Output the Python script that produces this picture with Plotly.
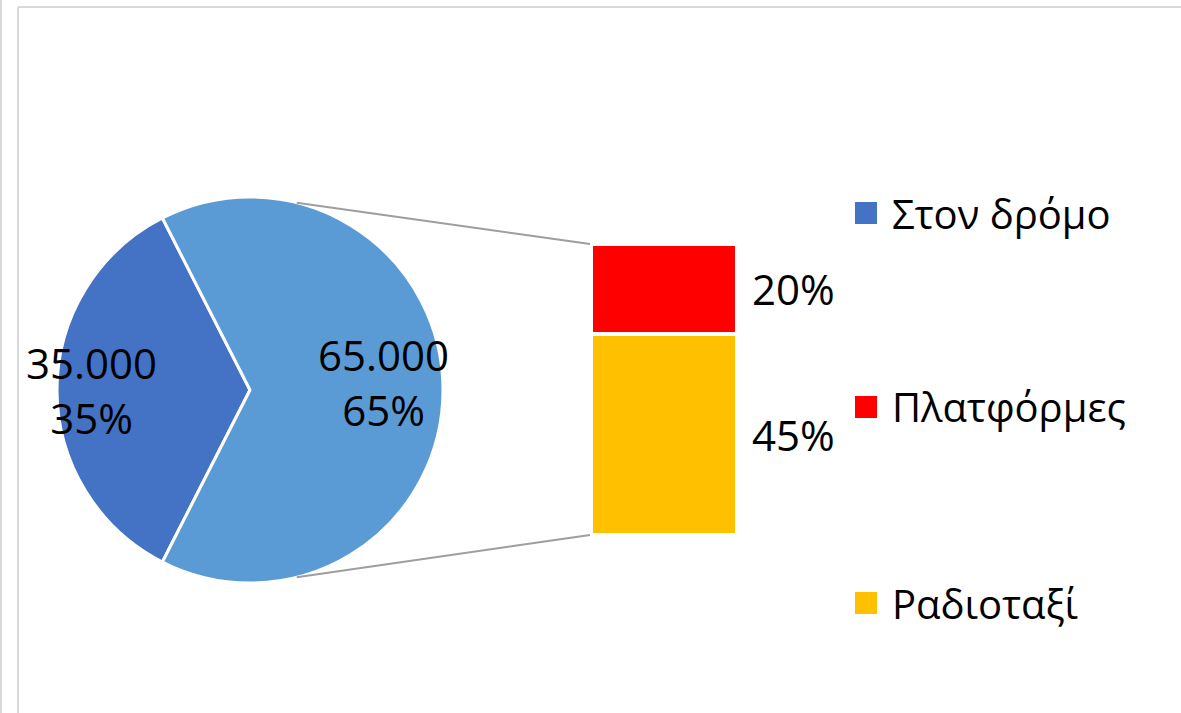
import numpy as np
import plotly.graph_objects as go

W, H = 1181, 713

# data
pie_labels = ["Στον δρόμο", "Άλλοι"]
bar_labels = ["Πλατφόρμες", "Ραδιοταξί"]
road_value = 35000
bar_values = [20000, 45000]
colors = {"Στον δρόμο": "#4472C4", "Άλλοι": "#5B9BD5",
          "Πλατφόρμες": "#FF0000", "Ραδιοταξί": "#FFC000"}
legend_names = ["Στον δρόμο", "Πλατφόρμες", "Ραδιοταξί"]

pie_values = [road_value, sum(bar_values)]
total = sum(pie_values)

FONT = "Open Sans"
FS = 40
FS_LABEL = 42


def px_x(x):
    return x / W


def px_y(y):
    return 1 - y / H


def gr_num(v):
    return f"{v:,}".replace(",", ".")


# pie geometry (pixels)
cx, cy, r = 250, 390, 193

fig = go.Figure()

fig.add_trace(go.Pie(
    labels=pie_labels, values=pie_values, sort=False,
    direction="clockwise", rotation=207,
    marker=dict(colors=[colors[l] for l in pie_labels], line=dict(color="white", width=3)),
    textinfo="none", hoverinfo="label+value+percent", showlegend=False,
    domain=dict(x=[px_x(cx - r), px_x(cx + r)], y=[px_y(cy + r), px_y(cy - r)]),
))

# stacked bar for the split of the second slice (bottom: Ραδιοταξί)
for name, val in zip(bar_labels[::-1], bar_values[::-1]):
    fig.add_trace(go.Bar(
        x=[0], y=[val], name=name, width=1,
        marker=dict(color=colors[name], line=dict(color="white", width=4)),
        showlegend=False, hoverinfo="name+y",
    ))

fig.update_layout(
    barmode="stack",
    width=W, height=H,
    margin=dict(l=0, r=0, t=0, b=0),
    paper_bgcolor="white", plot_bgcolor="white",
    font=dict(family=FONT, size=FS, color="black"),
    xaxis=dict(domain=[px_x(591), px_x(737)], range=[-0.5, 0.5], visible=False, fixedrange=True),
    yaxis=dict(domain=[px_y(535), px_y(244)], range=[0, sum(bar_values)], visible=False, fixedrange=True),
)

annotations = []

# pie labels
mids = []
acc = 0
for v in pie_values:
    frac = v / total
    mids.append(207 + (acc + frac / 2) * 360)
    acc += frac
label_r = [0.82, 0.69]
label_dy = [0, -8]
for v, m, lr, dy in zip(pie_values, mids, label_r, label_dy):
    ang = np.deg2rad(90 - m)
    lx = cx + lr * r * np.cos(ang)
    ly = cy - lr * r * np.sin(ang) + dy
    annotations.append(dict(
        x=px_x(lx), y=px_y(ly), xref="paper", yref="paper",
        xanchor="center", yanchor="middle",
        text=f"{gr_num(v)}<br>{round(100 * v / total)}%",
        showarrow=False, font=dict(size=FS_LABEL), align="center",
    ))

# bar labels
base = 0
for name, val in zip(bar_labels[::-1], bar_values[::-1]):
    annotations.append(dict(
        x=0.5, y=base + val / 2, xref="x", yref="y", xanchor="left", yanchor="middle", xshift=13,
        text=f"{round(100 * val / total)}%", showarrow=False, font=dict(size=FS_LABEL),
    ))
    base += val

# legend
leg_y = [213, 407, 603]
shapes = []
for name, ly in zip(legend_names, leg_y):
    shapes.append(dict(type="rect", xref="paper", yref="paper",
                       x0=px_x(855), x1=px_x(877), y0=px_y(ly + 11), y1=px_y(ly - 11),
                       fillcolor=colors[name], line=dict(width=0)))
    annotations.append(dict(x=px_x(890), y=px_y(ly), xref="paper", yref="paper",
                            xanchor="left", yanchor="middle", text=name,
                            showarrow=False, font=dict(size=FS)))

# connector lines from the pie edge to the bar
ang = np.deg2rad(76)
for sgn, by in [(1, 244), (-1, 535)]:
    x0 = cx + r * np.cos(ang)
    y0 = cy - sgn * r * np.sin(ang)
    shapes.append(dict(type="line", xref="paper", yref="paper",
                       x0=px_x(x0), y0=px_y(y0), x1=px_x(590), y1=px_y(by),
                       line=dict(color="#9E9E9E", width=2)))

# borders (outer left edge, chart area top and left edges)
border = dict(color="#D9D9D9", width=2)
shapes.append(dict(type="line", xref="paper", yref="paper", x0=px_x(1), x1=px_x(1), y0=0, y1=1,
                   line=border))
shapes.append(dict(type="line", xref="paper", yref="paper", x0=px_x(18), x1=px_x(18), y0=0, y1=px_y(7),
                   line=border))
shapes.append(dict(type="line", xref="paper", yref="paper", x0=px_x(18), x1=1, y0=px_y(7), y1=px_y(7),
                   line=border))

fig.update_layout(annotations=annotations, shapes=shapes)

# drop the default 8px body margin so the figure sits at the window origin
fig.write_html("out.html", config={"displayModeBar": False},
               post_script="document.body.style.margin='0';")
